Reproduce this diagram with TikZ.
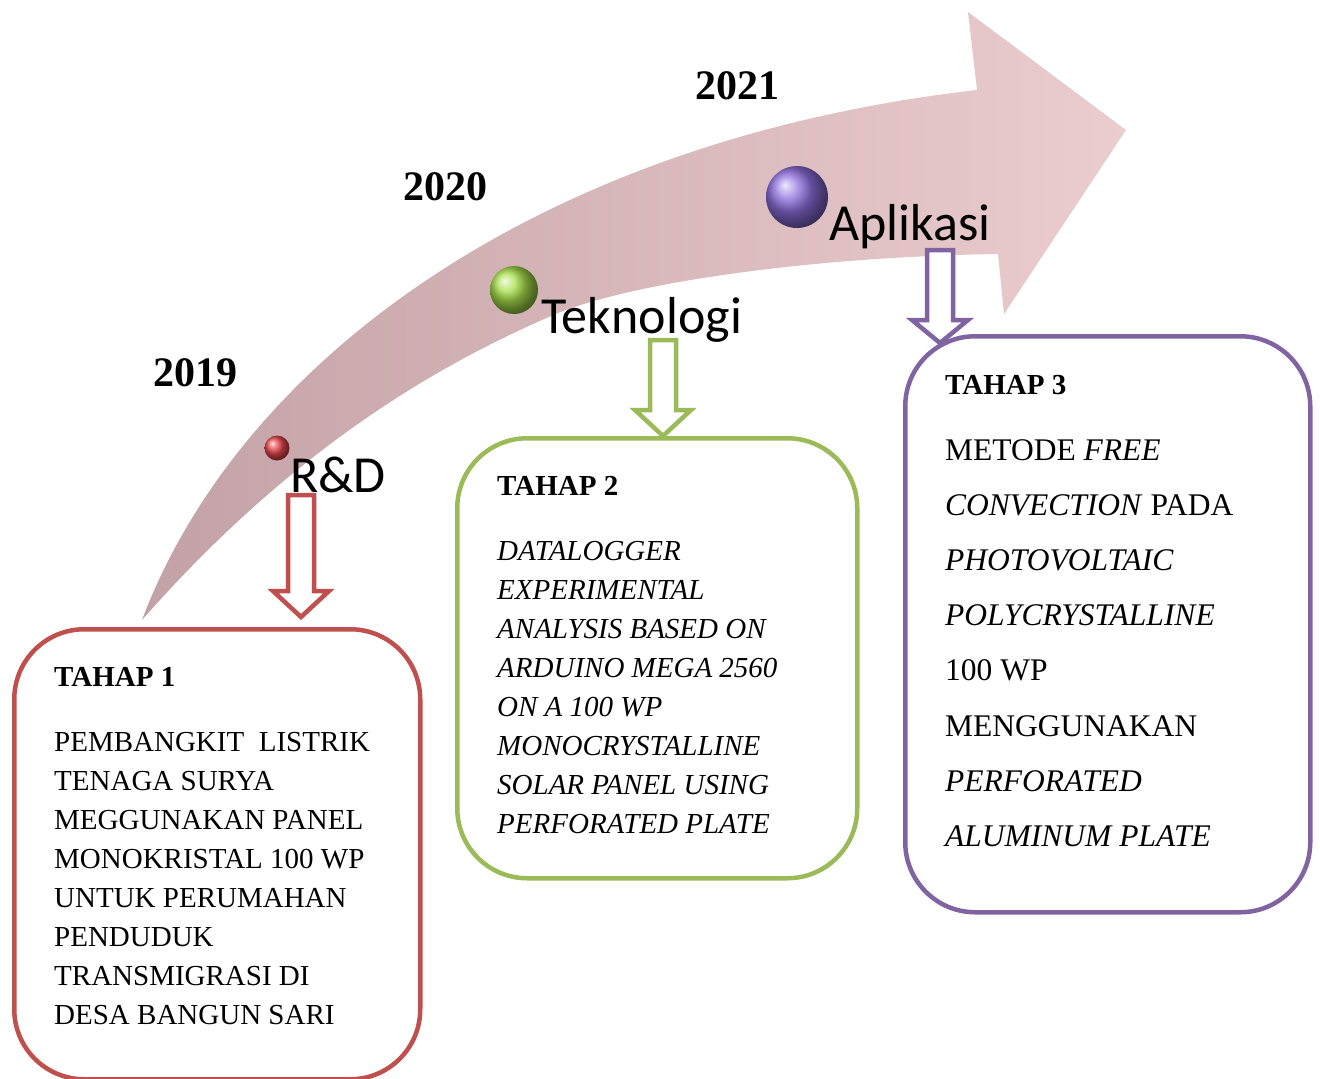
\documentclass[tikz,border=0pt]{standalone}
\usepackage{fontspec}
\setmainfont{Liberation Serif}
\newfontfamily\labelfont{Carlito}

\definecolor{tahapred}{HTML}{C0504D}
\definecolor{tahapgreen}{HTML}{9BBB59}
\definecolor{tahappurple}{HTML}{8064A2}
\definecolor{arrowdark}{HTML}{C2A2A6}
\definecolor{arrowlight}{HTML}{ECCDCF}
\definecolor{ballred}{HTML}{E8454A}
\definecolor{ballgreen}{HTML}{A8E04A}
\definecolor{ballpurple}{HTML}{8E70E0}

\tikzset{
  tahapbox/.style={draw, line width=4.5pt, rounded corners=70pt, fill=white, anchor=north west, inner sep=0pt},
  headtext/.style={font=\fontsize{29}{39}\selectfont\bfseries, anchor=base west, inner sep=0pt},
  bodytext/.style={font=\fontsize{29}{39}\selectfont, anchor=base west, inner sep=0pt},
  yeartext/.style={font=\fontsize{42}{50}\selectfont\bfseries, anchor=base, inner sep=0pt},
  steptext/.style={font=\labelfont\fontsize{52}{60}\selectfont, anchor=base west, inner sep=0pt},
  downarrow/.style={draw, line width=4.5pt, fill=white, line join=miter},
}

\begin{document}
\begin{tikzpicture}[x=1pt,y=-1pt]
  \useasboundingbox (0,0) rectangle (1320,1079);
  \fill[white] (0,0) rectangle (1320,1079);

  % the big curved arrow
  \shade[left color=arrowdark, right color=arrowlight]
    (142,620) .. controls (240,360) and (540,140) .. (977,90)
    -- (968,12) -- (1126,130) -- (1004,314) -- (998,254)
    .. controls (800,257) and (620,285) .. (551,316)
    .. controls (450,360) and (300,440) .. (142,620) -- cycle;

  % years
  \node[yeartext] (y2019) at (195,386) {2019};
  \node[yeartext] (y2020) at (445,200) {2020};
  \node[yeartext] (y2021) at (737,99) {2021};

  % balls on the arrow
  \shade[ball color=ballred] (277,448) circle (12.5);
  \shade[ball color=ballgreen] (514,290) circle (24);
  \shade[ball color=ballpurple] (797,197) circle (31);

  % step labels
  \node[steptext] (rnd) at (290,492) {R\&D};
  \node[steptext] (tekno) at (541,333) {Teknologi};
  \node[steptext] (apli) at (829,240) {Aplikasi};

  % hollow down arrows
  \foreach \x/\ytop/\yhead/\ytip/\col in {301/495/591/617/tahapred, 663/340/410/436/tahapgreen, 940/250/320/343/tahappurple}
    \draw[downarrow, draw=\col] (\x-13,\ytop) -- (\x+13,\ytop) -- (\x+13,\yhead) -- (\x+28,\yhead)
      -- (\x,\ytip) -- (\x-28,\yhead) -- (\x-13,\yhead) -- cycle;

  % boxes
  \node[tahapbox, draw=tahapred, minimum width=406pt, minimum height=450pt] (box1) at (12,627) {};
  \node[tahapbox, draw=tahapgreen, minimum width=400pt, minimum height=440pt] (box2) at (455,436) {};
  \node[tahapbox, draw=tahappurple, minimum width=405pt, minimum height=576pt] (box3) at (903,334) {};

  % TAHAP 1
  \node[headtext] (head1) at (54,686) {TAHAP 1};
  \foreach \txt [count=\i] in {PEMBANGKIT\ \ LISTRIK, TENAGA SURYA, MEGGUNAKAN PANEL,
      MONOKRISTAL 100 WP, UNTUK PERUMAHAN, PENDUDUK, TRANSMIGRASI DI, DESA BANGUN SARI}
    \node[bodytext] (tahap1-\i) at (54,{751+39*(\i-1)}) {\txt};

  % TAHAP 2
  \node[headtext] (head2) at (497,495) {TAHAP 2};
  \foreach \txt [count=\i] in {DATALOGGER, EXPERIMENTAL, ANALYSIS BASED ON, ARDUINO MEGA 2560,
      ON A 100 WP, MONOCRYSTALLINE, SOLAR PANEL USING, PERFORATED PLATE}
    \node[bodytext, font=\fontsize{29}{39}\selectfont\itshape] (tahap2-\i) at (497,{560+39*(\i-1)}) {\txt};

  % TAHAP 3
  \node[headtext] (head3) at (945,394) {TAHAP 3};
  \foreach \txt [count=\i] in {METODE \textit{FREE}, \textit{CONVECTION} PADA, \textit{PHOTOVOLTAIC},
      \textit{POLYCRYSTALLINE}, 100 WP, MENGGUNAKAN, \textit{PERFORATED}, \textit{ALUMINUM PLATE}}
    \node[bodytext, font=\fontsize{31.5}{40}\selectfont] (tahap3-\i) at (945,{460+55.2*(\i-1)}) {\txt};
\end{tikzpicture}
\end{document}
